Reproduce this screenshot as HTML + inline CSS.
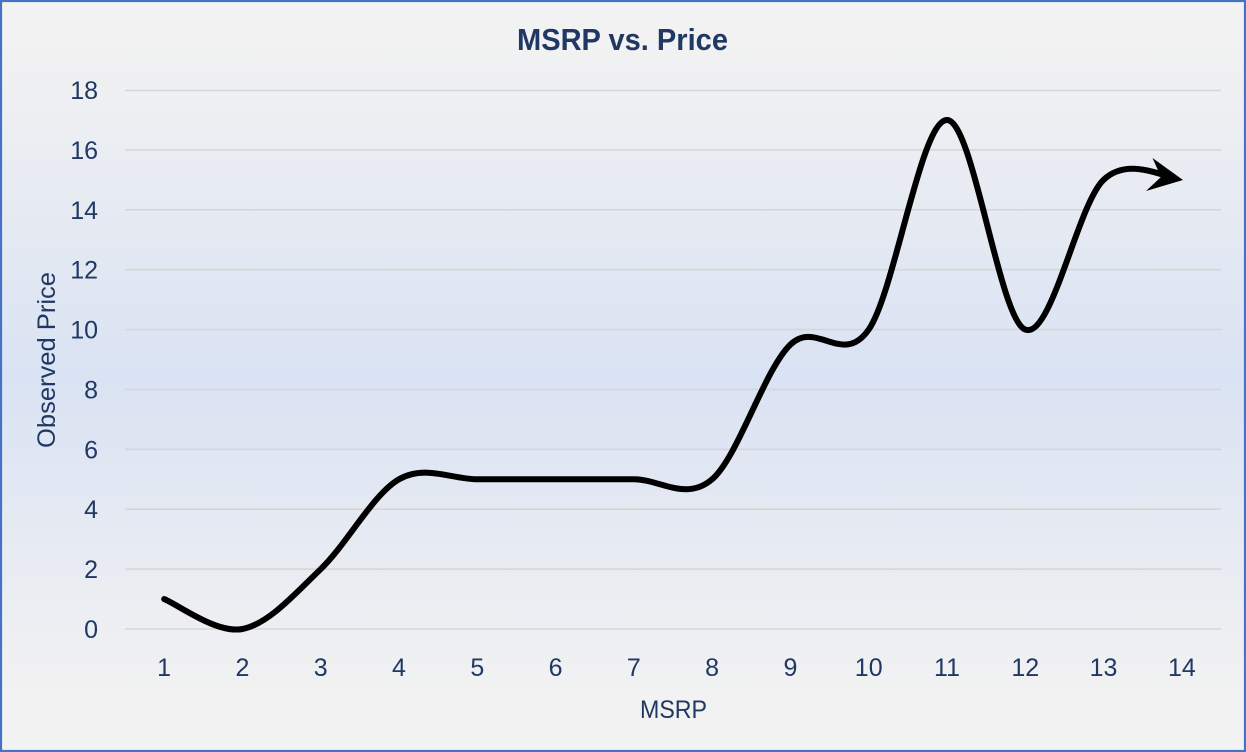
<!DOCTYPE html>
<html>
<head>
<meta charset="utf-8">
<style>
  html, body { margin: 0; padding: 0; width: 1246px; height: 752px; overflow: hidden; background: #f2f2f2; }
  svg { display: block; }
  text { font-family: "Liberation Sans", sans-serif; fill: #203864; }
</style>
</head>
<body>
<svg width="1246" height="752" viewBox="0 0 1246 752" xmlns="http://www.w3.org/2000/svg">
  <defs>
    <linearGradient id="bg" x1="0" y1="0" x2="0" y2="1">
      <stop offset="0" stop-color="#f2f2f2"/>
      <stop offset="0.05" stop-color="#f2f2f2"/>
      <stop offset="0.5" stop-color="#dae3f3"/>
      <stop offset="0.93" stop-color="#f2f2f2"/>
      <stop offset="1" stop-color="#f2f2f2"/>
    </linearGradient>
  </defs>
  <rect x="0" y="0" width="1246" height="752" fill="url(#bg)"/>
  <rect x="1" y="1" width="1244" height="750" fill="none" stroke="#4472c4" stroke-width="2.2"/>

  <!-- title -->
  <text x="622.5" y="50" font-size="31" font-weight="bold" text-anchor="middle" textLength="211" lengthAdjust="spacingAndGlyphs" style="fill:#1f3864">MSRP vs. Price</text>

  <!-- gridlines -->
  <g stroke="#d6d6d6" stroke-width="1.6">
    <line x1="125" y1="629" x2="1221" y2="629"/>
    <line x1="125" y1="569.11" x2="1221" y2="569.11"/>
    <line x1="125" y1="509.22" x2="1221" y2="509.22"/>
    <line x1="125" y1="449.33" x2="1221" y2="449.33"/>
    <line x1="125" y1="389.44" x2="1221" y2="389.44"/>
    <line x1="125" y1="329.56" x2="1221" y2="329.56"/>
    <line x1="125" y1="269.67" x2="1221" y2="269.67"/>
    <line x1="125" y1="209.78" x2="1221" y2="209.78"/>
    <line x1="125" y1="149.89" x2="1221" y2="149.89"/>
    <line x1="125" y1="90.5" x2="1221" y2="90.5"/>
  </g>

  <!-- y tick labels -->
  <g font-size="25" text-anchor="end">
    <text x="98" y="638">0</text>
    <text x="98" y="578.1">2</text>
    <text x="98" y="518.2">4</text>
    <text x="98" y="458.3">6</text>
    <text x="98" y="398.4">8</text>
    <text x="98" y="338.6">10</text>
    <text x="98" y="278.7">12</text>
    <text x="98" y="218.8">14</text>
    <text x="98" y="158.9">16</text>
    <text x="98" y="99">18</text>
  </g>

  <!-- x tick labels -->
  <g font-size="25" text-anchor="middle">
    <text x="164.14" y="676">1</text>
    <text x="242.43" y="676">2</text>
    <text x="320.71" y="676">3</text>
    <text x="399.0" y="676">4</text>
    <text x="477.29" y="676">5</text>
    <text x="555.57" y="676">6</text>
    <text x="633.86" y="676">7</text>
    <text x="712.14" y="676">8</text>
    <text x="790.43" y="676">9</text>
    <text x="868.71" y="676">10</text>
    <text x="947.0" y="676">11</text>
    <text x="1025.29" y="676">12</text>
    <text x="1103.57" y="676">13</text>
    <text x="1181.86" y="676">14</text>
  </g>

  <!-- axis titles -->
  <text x="673.5" y="718" font-size="25" text-anchor="middle" textLength="67" lengthAdjust="spacingAndGlyphs">MSRP</text>
  <text transform="translate(55,360) rotate(-90)" x="0" y="0" font-size="25" text-anchor="middle" textLength="176" lengthAdjust="spacingAndGlyphs">Observed Price</text>

  <!-- series -->
  <path fill="none" stroke="#000" stroke-width="6" stroke-linejoin="round" stroke-linecap="butt"
    d="M 164.14 599.06
       C 177.19 604.05, 216.34 633.99, 242.43 629
       C 268.53 624.01, 294.62 594.06, 320.71 569.11
       C 346.81 544.16, 372.91 494.25, 399.0 479.28
       C 425.10 464.31, 451.19 479.28, 477.29 479.28
       L 633.86 479.28
       C 659.95 479.28, 686.05 501.74, 712.14 479.28
       C 738.24 456.82, 764.34 369.48, 790.43 344.53
       C 816.52 319.58, 842.62 366.99, 868.71 329.56
       C 894.81 292.13, 920.91 119.95, 947.0 119.95
       C 973.10 119.95, 999.20 319.58, 1025.29 329.56
       C 1051.38 339.54, 1077.48 204.79, 1103.57 179.83
       C 1121.84 162.36, 1146.50 169.35, 1164.1 175.1"/>
  <circle cx="164.14" cy="599.06" r="3" fill="#000"/>
  <!-- arrowhead -->
  <polygon points="1183,180 1152.5,158 1161,177 1146,191" fill="#000"/>
</svg>
</body>
</html>
